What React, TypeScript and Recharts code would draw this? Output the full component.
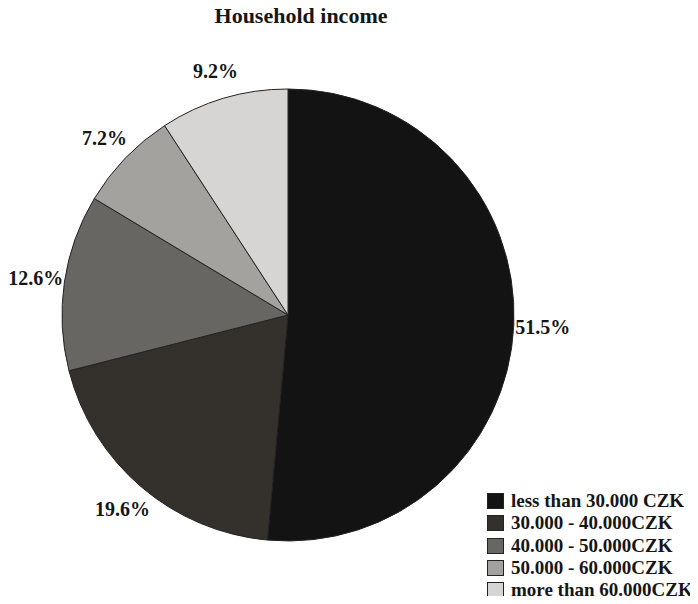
import { PieChart, Pie, Cell, Legend } from 'recharts'

const CATEGORIES = ['less than 30.000 CZK', '30.000 - 40.000CZK', '40.000 - 50.000CZK', '50.000 - 60.000CZK', 'more than 60.000CZK']
const SHARES = [51.5, 19.6, 12.6, 7.2, 9.2]
const COLORS = ['#131313', '#34312d', '#686662', '#a4a29e', '#d6d5d3']

const FONT = '"Liberation Serif", "Times New Roman", serif'
const RADIAN = Math.PI / 180

const data = CATEGORIES.map((name, i) => ({ name, value: SHARES[i] }))

function renderLabel(props: any) {
  const { cx, cy, midAngle, outerRadius, value } = props
  const r = outerRadius + 29
  const x = cx + r * Math.cos(-midAngle * RADIAN)
  const y = cy + r * Math.sin(-midAngle * RADIAN)
  return (
    <text x={x} y={y} textAnchor="middle" dominantBaseline="central" fill="#161616"
      style={{ fontFamily: FONT, fontWeight: 'bold', fontSize: 20 }}>
      {value.toFixed(1)}%
    </text>
  )
}

// legend keeps the data order (recharts would sort it by name)
function LegendBox() {
  return (
    <div style={{ fontFamily: FONT, fontWeight: 'bold', fontSize: 19, color: '#161616', lineHeight: '22px' }}>
      {CATEGORIES.map((name, i) => (
        <div key={name} style={{ display: 'flex', alignItems: 'center', height: 22.3, whiteSpace: 'nowrap' }}>
          <span style={{
            display: 'inline-block', width: 15, height: 14, background: COLORS[i],
            border: '1px solid #222', marginRight: 7, flexShrink: 0,
          }} />
          <span>{name}</span>
        </div>
      ))}
    </div>
  )
}

export default function App() {
  return (
    <div style={{ position: 'relative', width: 698, height: 604, margin: -8, background: '#fff', overflow: 'hidden' }}>
      <div style={{
        position: 'absolute', left: 0, top: 3, width: 602, textAlign: 'center',
        fontFamily: FONT, fontWeight: 'bold', fontSize: 22, color: '#161616',
      }}>
        Household income
      </div>
      <PieChart width={698} height={604} margin={{ top: 0, right: 0, bottom: 0, left: 0 }}>
        <Pie
          data={data}
          dataKey="value"
          nameKey="name"
          cx={288}
          cy={315}
          outerRadius={226}
          startAngle={90}
          endAngle={-270}
          stroke="#222"
          strokeWidth={1}
          label={renderLabel}
          labelLine={false}
          isAnimationActive={false}
        >
          {data.map((_, i) => (
            <Cell key={i} fill={COLORS[i]} />
          ))}
        </Pie>
        <Legend
          layout="vertical"
          content={<LegendBox />}
          wrapperStyle={{ position: 'absolute', left: 487, top: 490, width: 211, height: 113 }}
        />
      </PieChart>
    </div>
  )
}
